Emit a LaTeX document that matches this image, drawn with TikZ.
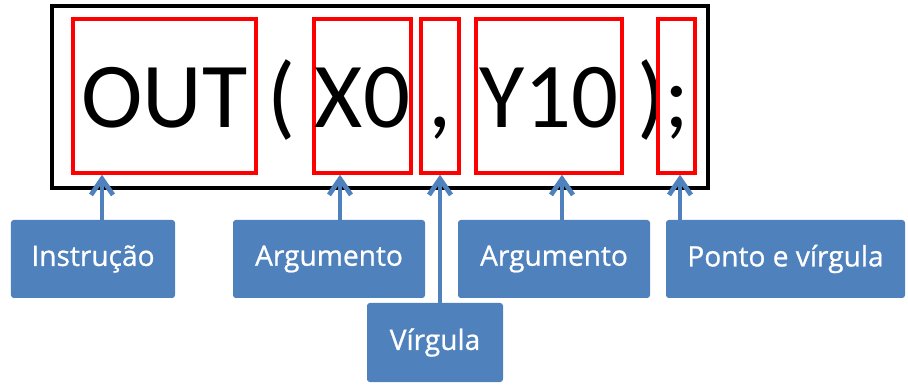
\documentclass[tikz,border=0pt]{standalone}
\usepackage{fontspec}
\usepackage{xcolor}
\usepackage{tikz}
\usetikzlibrary{arrows.meta}

\newfontfamily\codefont{Carlito}
\newfontfamily\labelfont[FakeBold=0.8]{Open Sans}
\definecolor{boxblue}{HTML}{4F81BD}

\begin{document}
\begin{tikzpicture}[
	token/.style = {font=\codefont\fontsize{66}{70}\selectfont, inner sep=0pt,
		text height=1.6cm, text depth=0cm, minimum height=3.85cm},
	part/.style = {token, draw=red, line width=2.4pt},
	label/.style = {fill=boxblue, rounded corners=2pt, text=white,
		font=\labelfont\fontsize{20}{24}\selectfont, minimum height=1.95cm},
	link/.style = {draw=boxblue, line width=3.4pt,
		-{Straight Barb[length=4mm, width=5.5mm]}},
	]
	\useasboundingbox (0,0) rectangle (22.7,-9.625);

	% frame round the statement
	\node [draw, line width=3.2pt, minimum width=16.4cm, minimum height=4.55cm] (frame) at (9.5,-2.425) {};

	% the statement, one token per node
	\node [part, minimum width=4.575cm] (out) at (4.1125,-2.4) {OUT};
	\node [token] (lpar) at (7.05,-2.4) {(};
	\node [part, minimum width=2.425cm] (xz) at (9.0625,-2.4) {X0};
	\node [part, minimum width=0.95cm] (comma) at (11,-2.4) {,};
	\node [part, minimum width=3.65cm] (yten) at (13.725,-2.4) {Y10};
	\node [token] (rpar) at (16.3,-2.4) {)};
	\node [part, minimum width=0.925cm] (semi) at (16.9125,-2.4) {;};

	% labels
	\node [label, minimum width=4.1cm] (instr) at (2.325,-6.475) {Instrução};
	\node [label, minimum width=4.8cm] (arg1) at (8.225,-6.475) {Argumento};
	\node [label, minimum width=3.4cm, minimum height=1.975cm] (virg) at (10.875,-8.5625) {Vírgula};
	\node [label, minimum width=4.8cm] (arg2) at (13.85,-6.475) {Argumento};
	\node [label, minimum width=5.975cm] (ptv) at (19.6375,-6.475) {Ponto e vírgula};

	% arrows up to the tokens
	\foreach \from/\to/\dx in {instr/out/0.225, arg1/xz/0.275, virg/comma/0.125, arg2/yten/0.2, ptv/semi/-2.6375} {
		\path (\from.north) ++(\dx,0) coordinate (tail);
		\draw [link] (tail) -- (tail |- \to.south);
	}
\end{tikzpicture}
\end{document}
